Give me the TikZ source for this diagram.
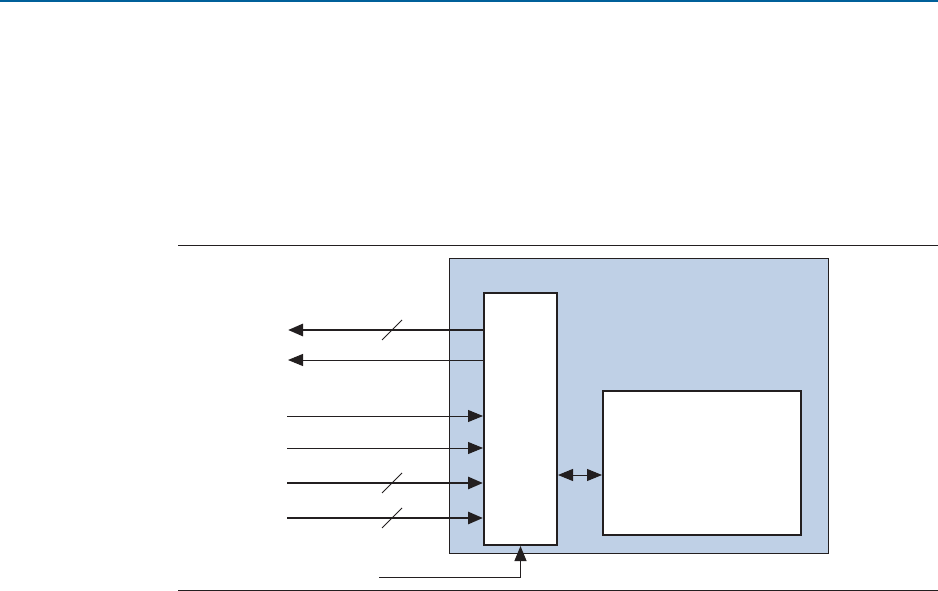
\documentclass[tikz,border=0pt]{standalone}
\usepackage{color}
\usetikzlibrary{positioning,arrows.meta}
\definecolor{chipblue}{RGB}{191,208,230}
\definecolor{barblue}{RGB}{0,96,154}
\definecolor{ink}{RGB}{35,31,32}

\begin{document}
\begin{tikzpicture}[x=1pt, y=-1pt, >={Triangle[length=15pt,width=12pt]},
		chip/.style={draw=ink, line width=1pt, fill=chipblue, inner sep=0pt, minimum width=379pt, minimum height=295pt},
		blk/.style={draw=ink, line width=2pt, fill=white, inner sep=0pt},
		wire/.style={draw=ink, line width=1pt},
		bus/.style={draw=ink, line width=2.8pt}]
			\useasboundingbox (0,0) rectangle (938,591);
			\fill[barblue] (0,0) rectangle (938,2.5);
			\draw[ink, line width=0.8pt] (178,245) -- (938,245);
			\draw[ink, line width=0.8pt] (178,590) -- (938,590);

			\node[chip] (chip) at (638.5,405.5) {};
			\node[blk, minimum width=73pt, minimum height=252pt] (ctrl) at (520.5,419) {};
			\node[blk, minimum width=198pt, minimum height=144pt] (mem) at (702,463) {};

			\coordinate (out1) at (288,330);
			\coordinate (out2) at (288,360);
			\coordinate (in1) at (287,416);
			\coordinate (in2) at (287,448);
			\coordinate (in3) at (287,483);
			\coordinate (in4) at (287,518);
			\coordinate (clk) at (379,577);
			\coordinate (link) at (580,475);

			\draw[bus,->] (out1 -| ctrl.west) -- (out1);
			\draw[wire,->] (out2 -| ctrl.west) -- (out2);
			\draw[wire,->] (in1) -- (in1 -| ctrl.west);
			\draw[wire,->] (in2) -- (in2 -| ctrl.west);
			\draw[bus,->] (in3) -- (in3 -| ctrl.west);
			\draw[bus,->] (in4) -- (in4 -| ctrl.west);
			\draw[wire,->] (clk) -| (ctrl.south);
			\draw[wire,<->] (link -| ctrl.east) -- (link -| mem.west);

			% bus width marks
			\foreach \y in {330,483,518}
				\draw[wire] (392,\y) ++(-10,10) -- ++(20,-20);
		\end{tikzpicture}
\end{document}
